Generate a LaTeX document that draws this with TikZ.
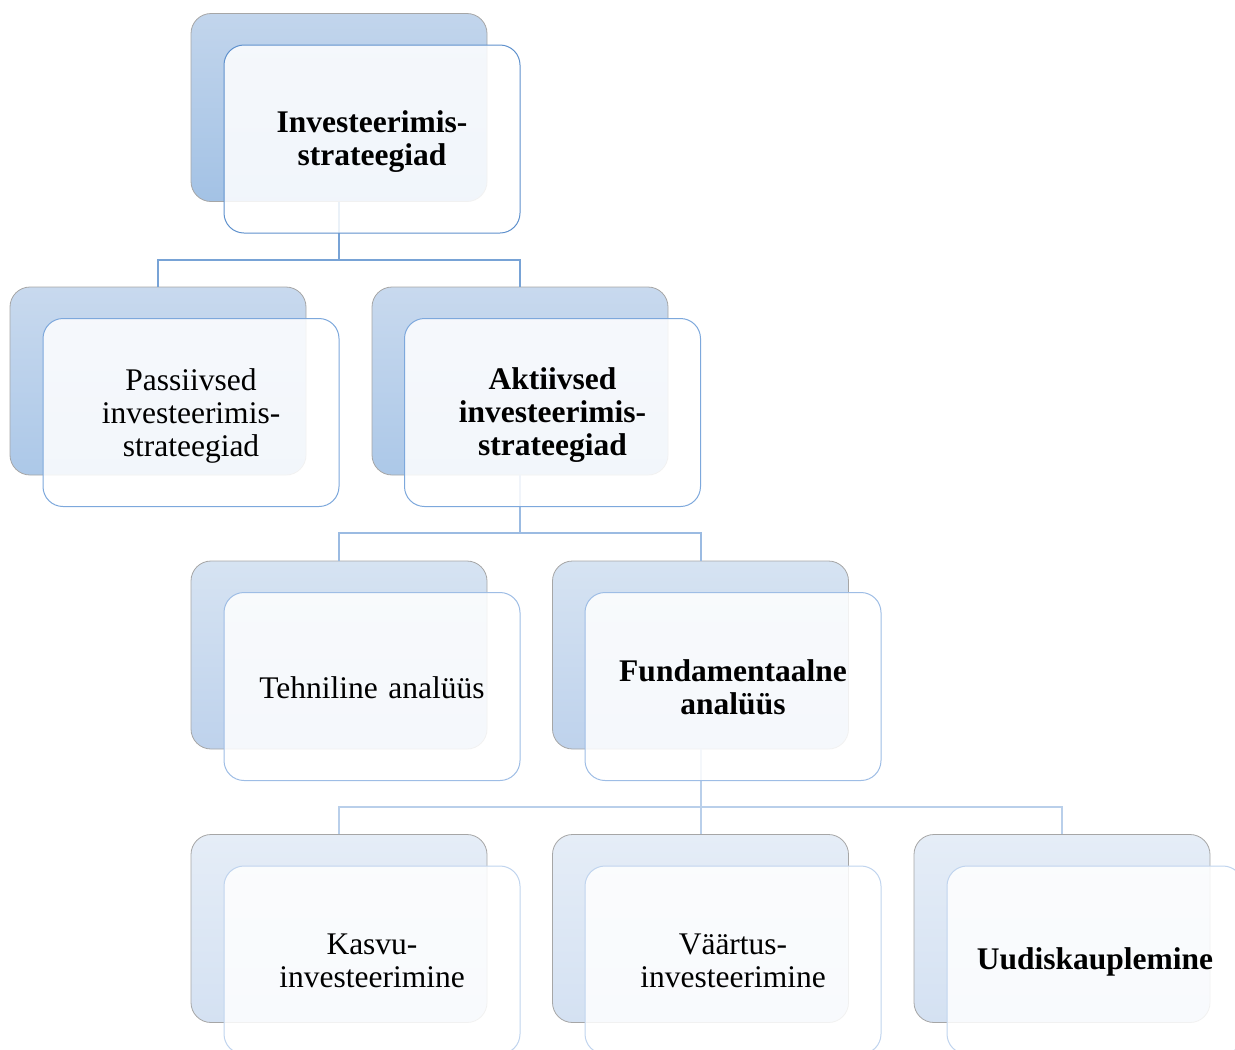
\documentclass[tikz,border=0pt]{standalone}
\usepackage{fontspec}
\setmainfont{Liberation Serif}
\definecolor{bkA0}{RGB}{194,213,236}\definecolor{bkB0}{RGB}{163,194,229}
\definecolor{bkA1}{RGB}{200,217,238}\definecolor{bkB1}{RGB}{172,200,232}
\definecolor{bkA2}{RGB}{214,227,242}\definecolor{bkB2}{RGB}{190,210,236}
\definecolor{bkA3}{RGB}{229,237,247}\definecolor{bkB3}{RGB}{212,225,242}
\definecolor{fr0}{RGB}{95,145,205}
\definecolor{fr1}{RGB}{125,168,220}
\definecolor{fr2}{RGB}{158,189,229}
\definecolor{fr3}{RGB}{192,212,238}
\definecolor{cn0}{RGB}{120,163,214}
\definecolor{cn1}{RGB}{155,187,226}
\definecolor{cn2}{RGB}{185,207,234}
\tikzset{
  boxbase/.style={rectangle, rounded corners=20pt, minimum width=296pt, minimum height=188pt, inner sep=0pt},
  backbox/.style={boxbase, draw=gray!70, line width=0.8pt, shading angle=0, top color=bkA#1, bottom color=bkB#1},
  frontbox/.style={boxbase, draw=fr#1, line width=1pt, fill=white, fill opacity=0.85},
  txt/.style={inner sep=0pt, text width=290pt, align=center, font=\fontsize{31.5}{33}\selectfont},
  conn/.style={draw=cn#1, line width=2pt},
}
\begin{document}
\begin{tikzpicture}[x=1pt,y=-1pt]
\useasboundingbox (0,0) rectangle (1235,1050);
\clip (0,0) rectangle (1235,1050);
% back boxes
\node[backbox=0] (b0) at (339,107.5) {};
\node[backbox=1] (b1) at (158,381) {};
\node[backbox=1] (b2) at (520,381) {};
\node[backbox=2] (b3) at (339,655) {};
\node[backbox=2] (b4) at (700.5,655) {};
\node[backbox=3] (b5) at (339,928.5) {};
\node[backbox=3] (b6) at (700.5,928.5) {};
\node[backbox=3] (b7) at (1062,928.5) {};
% connectors
\draw[conn=0] (b0.south) -- ++(0,58.5) -| (b1.north);
\draw[conn=0] (b0.south) -- ++(0,58.5) -| (b2.north);
\draw[conn=1] (b2.south) -- ++(0,58) -| (b3.north);
\draw[conn=1] (b2.south) -- ++(0,58) -| (b4.north);
\draw[conn=2] (b4.south) -- ++(0,58) -| (b5.north);
\draw[conn=2] (b4.south) -- (b6.north);
\draw[conn=2] (b4.south) -- ++(0,58) -| (b7.north);
% front boxes
\node[frontbox=0] (f0) at (372,139) {};
\node[frontbox=1] (f1) at (191,412.5) {};
\node[frontbox=1] (f2) at (552.5,412.5) {};
\node[frontbox=2] (f3) at (372,686.5) {};
\node[frontbox=2] (f4) at (733,686.5) {};
\node[frontbox=3] (f5) at (372,960) {};
\node[frontbox=3] (f6) at (733,960) {};
\node[frontbox=3] (f7) at (1095,960) {};
% texts
\node[txt] (t0) at ([yshift=-3pt]f0.center) {\textbf{Investeerimis-\\strateegiad}};
\node[txt] (t1) at ([yshift=-3pt]f1.center) {Passiivsed\\investeerimis-\\strateegiad};
\node[txt] (t2) at ([yshift=-3pt]f2.center) {\textbf{Aktiivsed\\investeerimis-\\strateegiad}};
\node[txt] (t3) at ([yshift=-1pt]f3.center) {Tehniline analüüs};
\node[txt] (t4) at ([yshift=-1pt]f4.center) {\textbf{Fundamentaalne\\analüüs}};
\node[txt] (t5) at ([yshift=-1pt]f5.center) {Kasvu-\\investeerimine};
\node[txt] (t6) at ([yshift=-1pt]f6.center) {Väärtus-\\investeerimine};
\node[txt] (t7) at ([yshift=-2pt]f7.center) {\textbf{Uudiskauplemine}};
\end{tikzpicture}
\end{document}
